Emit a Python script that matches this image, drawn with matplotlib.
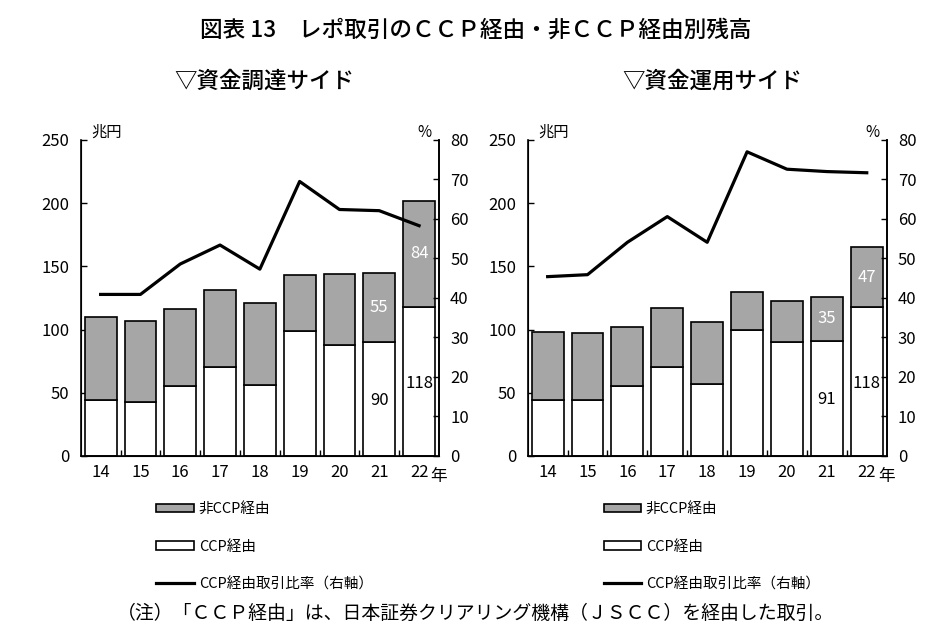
import matplotlib
matplotlib.use("Agg")
import numpy as np
import matplotlib.pyplot as plt
from matplotlib.patches import Patch
from matplotlib.lines import Line2D

plt.rcParams['font.family'] = ['Noto Sans CJK JP', 'DejaVu Sans']

years = ['14', '15', '16', '17', '18', '19', '20', '21', '22']

# 資金調達サイド
fund_ccp = [44, 43, 55, 70, 56, 99, 88, 90, 118]
fund_total = [110, 107, 116, 131, 121, 143, 144, 145, 202]
fund_ratio = [40.9, 40.9, 48.6, 53.4, 47.3, 69.5, 62.4, 62.1, 58.3]

# 資金運用サイド
inv_ccp = [44, 44, 55, 70, 57, 100, 90, 91, 118]
inv_total = [98, 97, 102, 117, 106, 130, 123, 126, 165]
inv_ratio = [45.4, 45.9, 54.1, 60.6, 54.1, 77.0, 72.6, 72.0, 71.7]

GRAY = '#a6a6a6'

fig = plt.figure(figsize=(9.52, 6.38), dpi=100)

fig.text(0.5, 0.952, '図表 13　レポ取引のＣＣＰ経由・非ＣＣＰ経由別残高',
         ha='center', va='center', fontsize=16.3, fontweight=500)


def draw_panel(rect, subtitle, sub_x, ccp, total, ratio, labels):
    ax = fig.add_axes(rect)
    x = np.arange(len(years))
    non_ccp = [t - c for t, c in zip(total, ccp)]
    ax.bar(x, ccp, width=0.8, color='white', edgecolor='black', linewidth=1.2, zorder=2)
    ax.bar(x, non_ccp, width=0.8, bottom=ccp, color=GRAY, edgecolor='black',
           linewidth=1.2, zorder=2)
    ax.set_xlim(-0.5, len(years) - 0.5)
    ax.set_ylim(0, 250)
    ax.set_yticks(range(0, 251, 50))
    ax.set_xticks(x)
    ax.set_xticklabels(years)
    ax.set_xticks(np.arange(0.5, len(years) - 0.5, 1), minor=True)
    ax.tick_params(axis='x', which='major', length=0, pad=6, labelsize=12)
    ax.tick_params(axis='x', which='minor', direction='in', length=4, width=1)
    ax.tick_params(axis='y', direction='in', length=4, width=1, pad=8, labelsize=12)
    ax.spines['top'].set_visible(False)
    for s in ('left', 'right', 'bottom'):
        ax.spines[s].set_linewidth(1.2)

    ax2 = ax.twinx()
    ax2.plot(x, ratio, color='black', linewidth=2.3, zorder=3)
    ax2.set_ylim(0, 80)
    ax2.set_yticks(range(0, 81, 10))
    ax2.tick_params(axis='y', direction='in', length=4, width=1, pad=8, labelsize=12)
    ax2.spines['top'].set_visible(False)
    ax2.spines['right'].set_linewidth(1.2)

    # 値ラベル（21年・22年）
    for i in (7, 8):
        nc = total[i] - ccp[i]
        ax.text(i, ccp[i] + nc / 2, str(labels[i][1]), ha='center', va='center',
                color='white', fontsize=12, zorder=4)
        ax.text(i, ccp[i] / 2 - 1 if i == 7 else ccp[i] / 2 - 2, str(labels[i][0]),
                ha='center', va='center', color='black', fontsize=12, zorder=4)

    ax.text(0.03, 1.025, '兆円', transform=ax.transAxes, ha='left', va='center', fontsize=11)
    ax.text(0.96, 1.025, '%', transform=ax.transAxes, ha='center', va='center', fontsize=11)
    ax.text(1.0, -0.065, '年', transform=ax.transAxes, ha='center', va='center', fontsize=12)

    fig.text(sub_x, 0.873, subtitle, ha='center', va='center',
             fontsize=16.2, fontweight=500)

    handles = [
        Patch(facecolor=GRAY, edgecolor='black', linewidth=1.2),
        Patch(facecolor='white', edgecolor='black', linewidth=1.2),
        Line2D([0], [0], color='black', linewidth=2.3),
    ]
    names = ['非CCP経由', 'CCP経由', 'CCP経由取引比率（右軸）']
    ax.legend(handles, names, loc='upper left', bbox_to_anchor=(0.195, -0.128),
              frameon=False, fontsize=10.5, handlelength=2.6, handleheight=0.5,
              handletextpad=0.3, labelspacing=1.6, borderaxespad=0)
    return ax


fund_labels = {7: (90, 55), 8: (118, 84)}
inv_labels = {7: (91, 35), 8: (118, 47)}

draw_panel([0.0848, 0.2853, 0.3763, 0.4953], '▽資金調達サイド', 0.278,
           fund_ccp, fund_total, fund_ratio, fund_labels)
draw_panel([0.5543, 0.2853, 0.3771, 0.4953], '▽資金運用サイド', 0.748,
           inv_ccp, inv_total, inv_ratio, inv_labels)

fig.text(0.5, 0.038, '（注）「ＣＣＰ経由」は、日本証券クリアリング機構（ＪＳＣＣ）を経由した取引。',
         ha='center', va='center', fontsize=13.6)

fig.savefig('out.png', dpi=100)
